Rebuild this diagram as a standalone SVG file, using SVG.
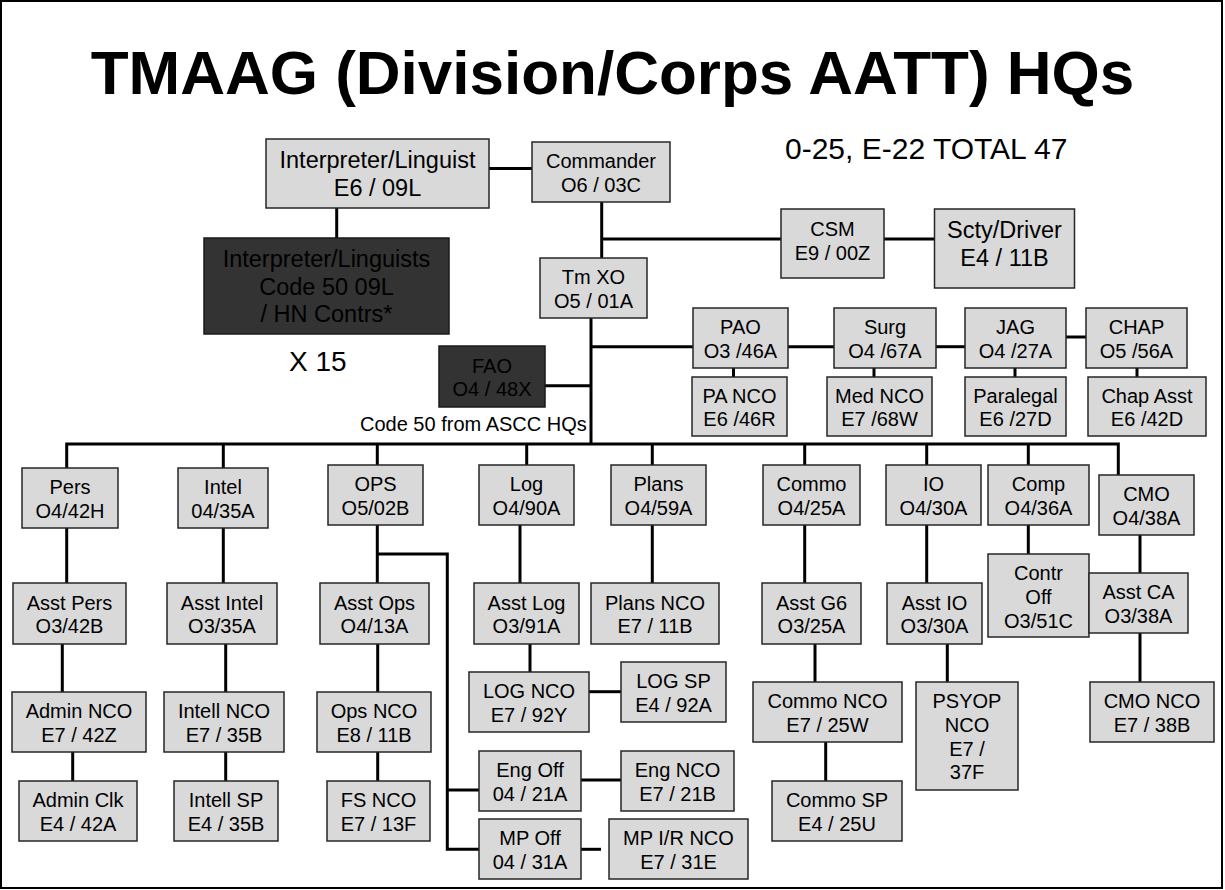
<svg xmlns="http://www.w3.org/2000/svg" width="1225" height="890" viewBox="0 0 1225 890">
<style>
.box{fill:#d9d9d9;stroke:#262626;stroke-width:1.5}
.dark{fill:#333333;stroke:#1a1a1a;stroke-width:1.5}
.t{font-family:"Liberation Sans",Arial,sans-serif;font-size:20px;text-anchor:middle;fill:#000}
.big{font-size:23.5px}
.c{stroke:#000;stroke-width:3;fill:none}
</style>
<rect x="0" y="0" width="1225" height="890" fill="#fff"/>
<rect x="1" y="1" width="1221" height="887" fill="none" stroke="#000" stroke-width="2"/>
<text x="612.5" y="94" style="font-family:'Liberation Sans',Arial,sans-serif;font-size:62px;font-weight:bold;text-anchor:middle">TMAAG (Division/Corps AATT) HQs</text>
<text x="785" y="159" style="font-family:'Liberation Sans',Arial,sans-serif;font-size:30px">0-25, E-22 TOTAL 47</text>
<text x="289" y="371" style="font-family:'Liberation Sans',Arial,sans-serif;font-size:28px">X 15</text>
<text x="360" y="431" style="font-family:'Liberation Sans',Arial,sans-serif;font-size:20px">Code 50 from ASCC HQs</text>

<g id="connectors" class="c">
<path d="M489 168.5H532"/>
<path d="M336.7 208V238"/>
<path d="M601.7 202V258"/>
<path d="M601.7 239H781"/>
<path d="M884 239H934.5"/>
<path d="M591 318V444"/>
<path d="M591 346.7H693"/>
<path d="M788 346.7H834"/>
<path d="M936 346.7H965"/>
<path d="M1066 337H1086"/>
<path d="M545 385.7H591"/>
<path d="M733.5 368V377"/>
<path d="M874 368V377"/>
<path d="M1015 368V377"/>
<path d="M1137 368V377"/>
<path d="M66.7 468V444H1118.3V475"/>
<path d="M223.3 444V468"/>
<path d="M377.3 444V465"/>
<path d="M526.7 444V465"/>
<path d="M652.3 444V465"/>
<path d="M804.7 444V465"/>
<path d="M926.7 444V465"/>
<path d="M1028.3 444V465"/>
<path d="M66.7 528V583"/>
<path d="M223.3 528V583"/>
<path d="M377.3 525V583"/>
<path d="M377.3 554H447.3V849.3H479"/>
<path d="M447.3 790H479"/>
<path d="M520 525V583"/>
<path d="M652.3 525V583"/>
<path d="M804.7 525V583"/>
<path d="M926.7 525V583"/>
<path d="M1028.3 525V554"/>
<path d="M1140 535V573"/>
<path d="M62.3 644V692"/>
<path d="M225.7 644V692"/>
<path d="M377.7 644V692"/>
<path d="M530 644V672"/>
<path d="M589 691.7H621"/>
<path d="M815 644V682"/>
<path d="M947.3 644V682"/>
<path d="M1140 633V682"/>
<path d="M72.7 752V781"/>
<path d="M225.7 752V781"/>
<path d="M377.7 752V781"/>
<path d="M825.7 742V781"/>
<path d="M581 780H621"/>
<path d="M581 849.3H601"/>
</g>

<g id="interp"><rect class="box" x="266" y="139" width="223" height="69"/><text class="t big" x="377.5" y="168">Interpreter/Linguist</text><text class="t big" x="377.5" y="196">E6 / 09L</text></g>
<g id="commander"><rect class="box" x="532" y="142" width="138" height="60"/><text class="t" x="601" y="168">Commander</text><text class="t" x="601" y="191.5">O6 / 03C</text></g>
<g id="interp-contrs"><rect class="dark" x="204" y="238" width="245" height="96"/><text class="t big" x="326.5" y="267">Interpreter/Linguists</text><text class="t big" x="326.5" y="294.5">Code 50 09L</text><text class="t big" x="326.5" y="322">/ HN Contrs*</text></g>
<g id="tmxo"><rect class="box" x="540" y="258" width="107" height="60"/><text class="t" x="593.5" y="284">Tm XO</text><text class="t" x="593.5" y="307.5">O5 / 01A</text></g>
<g id="fao"><rect class="dark" x="439" y="346" width="106" height="61"/><text class="t" x="492" y="372.5">FAO</text><text class="t" x="492" y="396">O4 / 48X</text></g>
<g id="csm"><rect class="box" x="781" y="209" width="103" height="69"/><text class="t" x="832.5" y="236">CSM</text><text class="t" x="832.5" y="259.5">E9 / 00Z</text></g>
<g id="scty"><rect class="box" x="934.5" y="209" width="140" height="79"/><text class="t big" x="1004.5" y="237.5">Scty/Driver</text><text class="t big" x="1004.5" y="266">E4 / 11B</text></g>
<g id="pao"><rect class="box" x="693" y="308" width="95" height="60"/><text class="t" x="740.5" y="334">PAO</text><text class="t" x="740.5" y="357.5">O3 /46A</text></g>
<g id="surg"><rect class="box" x="834" y="308" width="102" height="60"/><text class="t" x="885" y="334">Surg</text><text class="t" x="885" y="357.5">O4 /67A</text></g>
<g id="jag"><rect class="box" x="965" y="308" width="101" height="60"/><text class="t" x="1015.5" y="334">JAG</text><text class="t" x="1015.5" y="357.5">O4 /27A</text></g>
<g id="chap"><rect class="box" x="1086" y="308" width="101" height="60"/><text class="t" x="1136.5" y="334">CHAP</text><text class="t" x="1136.5" y="357.5">O5 /56A</text></g>
<g id="pa-nco"><rect class="box" x="692" y="377" width="95" height="59"/><text class="t" x="739.5" y="402.5">PA NCO</text><text class="t" x="739.5" y="426">E6 /46R</text></g>
<g id="med-nco"><rect class="box" x="827" y="377" width="105" height="59"/><text class="t" x="879.5" y="402.5">Med NCO</text><text class="t" x="879.5" y="426">E7 /68W</text></g>
<g id="paralegal"><rect class="box" x="965" y="377" width="101" height="59"/><text class="t" x="1015.5" y="402.5">Paralegal</text><text class="t" x="1015.5" y="426">E6 /27D</text></g>
<g id="chap-asst"><rect class="box" x="1088" y="377" width="118" height="59"/><text class="t" x="1147" y="402.5">Chap Asst</text><text class="t" x="1147" y="426">E6 /42D</text></g>

<g id="pers"><rect class="box" x="22" y="468" width="96" height="60"/><text class="t" x="70" y="494">Pers</text><text class="t" x="70" y="517.5">O4/42H</text></g>
<g id="intel"><rect class="box" x="178" y="468" width="90" height="60"/><text class="t" x="223" y="494">Intel</text><text class="t" x="223" y="517.5">04/35A</text></g>
<g id="ops"><rect class="box" x="328" y="465" width="95" height="60"/><text class="t" x="375.5" y="491">OPS</text><text class="t" x="375.5" y="514.5">O5/02B</text></g>
<g id="log"><rect class="box" x="479" y="465" width="95" height="60"/><text class="t" x="526.5" y="491">Log</text><text class="t" x="526.5" y="514.5">O4/90A</text></g>
<g id="plans"><rect class="box" x="611" y="465" width="95" height="60"/><text class="t" x="658.5" y="491">Plans</text><text class="t" x="658.5" y="514.5">O4/59A</text></g>
<g id="commo"><rect class="box" x="763" y="465" width="97" height="60"/><text class="t" x="811.5" y="491">Commo</text><text class="t" x="811.5" y="514.5">O4/25A</text></g>
<g id="io"><rect class="box" x="886" y="465" width="95" height="60"/><text class="t" x="933.5" y="491">IO</text><text class="t" x="933.5" y="514.5">O4/30A</text></g>
<g id="comp"><rect class="box" x="988" y="465" width="101" height="60"/><text class="t" x="1038.5" y="491">Comp</text><text class="t" x="1038.5" y="514.5">O4/36A</text></g>
<g id="cmo"><rect class="box" x="1099" y="475" width="95" height="60"/><text class="t" x="1146.5" y="501">CMO</text><text class="t" x="1146.5" y="524.5">O4/38A</text></g>

<g id="asst-pers"><rect class="box" x="13" y="583" width="113" height="61"/><text class="t" x="69.5" y="609.5">Asst Pers</text><text class="t" x="69.5" y="633">O3/42B</text></g>
<g id="asst-intel"><rect class="box" x="167" y="583" width="110" height="61"/><text class="t" x="222" y="609.5">Asst Intel</text><text class="t" x="222" y="633">O3/35A</text></g>
<g id="asst-ops"><rect class="box" x="320" y="583" width="109" height="61"/><text class="t" x="374.5" y="609.5">Asst Ops</text><text class="t" x="374.5" y="633">O4/13A</text></g>
<g id="asst-log"><rect class="box" x="474" y="583" width="105" height="61"/><text class="t" x="526.5" y="609.5">Asst Log</text><text class="t" x="526.5" y="633">O3/91A</text></g>
<g id="plans-nco"><rect class="box" x="591" y="583" width="128" height="61"/><text class="t" x="655" y="609.5">Plans NCO</text><text class="t" x="655" y="633">E7 / 11B</text></g>
<g id="asst-g6"><rect class="box" x="762" y="583" width="99" height="61"/><text class="t" x="811.5" y="609.5">Asst G6</text><text class="t" x="811.5" y="633">O3/25A</text></g>
<g id="asst-io"><rect class="box" x="887" y="583" width="95" height="61"/><text class="t" x="934.5" y="609.5">Asst IO</text><text class="t" x="934.5" y="633">O3/30A</text></g>
<g id="contr-off"><rect class="box" x="988" y="554" width="101" height="83"/><text class="t" x="1038.5" y="580">Contr</text><text class="t" x="1038.5" y="604">Off</text><text class="t" x="1038.5" y="627.5">O3/51C</text></g>
<g id="asst-ca"><rect class="box" x="1089" y="573" width="99" height="60"/><text class="t" x="1138.5" y="599">Asst CA</text><text class="t" x="1138.5" y="622.5">O3/38A</text></g>

<g id="admin-nco"><rect class="box" x="12" y="692" width="134" height="60"/><text class="t" x="79" y="718">Admin NCO</text><text class="t" x="79" y="741.5">E7 / 42Z</text></g>
<g id="intell-nco"><rect class="box" x="164" y="692" width="120" height="60"/><text class="t" x="224" y="718">Intell NCO</text><text class="t" x="224" y="741.5">E7 / 35B</text></g>
<g id="ops-nco"><rect class="box" x="317" y="692" width="114" height="60"/><text class="t" x="374" y="718">Ops NCO</text><text class="t" x="374" y="741.5">E8 / 11B</text></g>
<g id="log-nco"><rect class="box" x="469" y="672" width="120" height="60"/><text class="t" x="529" y="698">LOG NCO</text><text class="t" x="529" y="721.5">E7 / 92Y</text></g>
<g id="log-sp"><rect class="box" x="621" y="662" width="105" height="60"/><text class="t" x="673.5" y="688">LOG SP</text><text class="t" x="673.5" y="711.5">E4 / 92A</text></g>
<g id="commo-nco"><rect class="box" x="753" y="682" width="149" height="60"/><text class="t" x="827.5" y="708">Commo NCO</text><text class="t" x="827.5" y="731.5">E7 / 25W</text></g>
<g id="psyop-nco"><rect class="box" x="916" y="682" width="102" height="108"/><text class="t" x="967" y="708.3">PSYOP</text><text class="t" x="967" y="732">NCO</text><text class="t" x="967" y="755.7">E7 /</text><text class="t" x="967" y="779.3">37F</text></g>
<g id="cmo-nco"><rect class="box" x="1090" y="682" width="124" height="60"/><text class="t" x="1152" y="708">CMO NCO</text><text class="t" x="1152" y="731.5">E7 / 38B</text></g>

<g id="admin-clk"><rect class="box" x="19" y="781" width="118" height="60"/><text class="t" x="78" y="807">Admin Clk</text><text class="t" x="78" y="830.5">E4 / 42A</text></g>
<g id="intell-sp"><rect class="box" x="174" y="781" width="104" height="60"/><text class="t" x="226" y="807">Intell SP</text><text class="t" x="226" y="830.5">E4 / 35B</text></g>
<g id="fs-nco"><rect class="box" x="327" y="781" width="103" height="60"/><text class="t" x="378.5" y="807">FS NCO</text><text class="t" x="378.5" y="830.5">E7 / 13F</text></g>
<g id="eng-off"><rect class="box" x="479" y="751" width="102" height="60"/><text class="t" x="530" y="777">Eng Off</text><text class="t" x="530" y="800.5">04 / 21A</text></g>
<g id="eng-nco"><rect class="box" x="621" y="751" width="113" height="60"/><text class="t" x="677.5" y="777">Eng NCO</text><text class="t" x="677.5" y="800.5">E7 / 21B</text></g>
<g id="mp-off"><rect class="box" x="479" y="819" width="102" height="60"/><text class="t" x="530" y="845">MP Off</text><text class="t" x="530" y="868.5">04 / 31A</text></g>
<g id="mp-nco"><rect class="box" x="609" y="819" width="139" height="60"/><text class="t" x="678.5" y="845">MP I/R NCO</text><text class="t" x="678.5" y="868.5">E7 / 31E</text></g>
<g id="commo-sp"><rect class="box" x="772" y="781" width="130" height="60"/><text class="t" x="837" y="807">Commo SP</text><text class="t" x="837" y="830.5">E4 / 25U</text></g>
</svg>
